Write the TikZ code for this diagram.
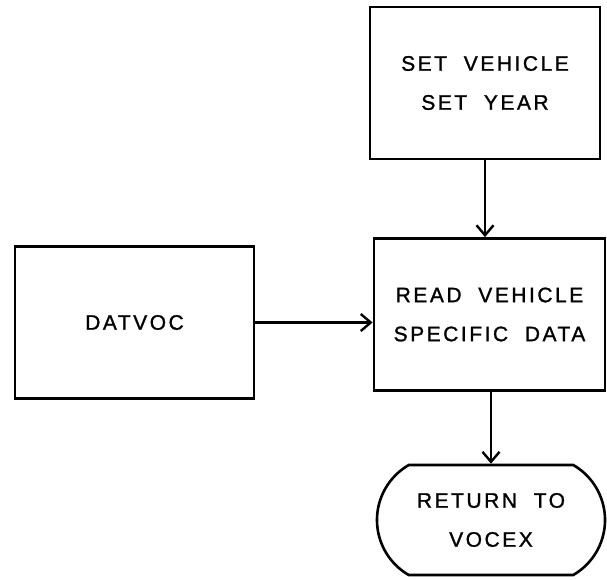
\documentclass[tikz,border=0pt]{standalone}
\usepackage{fontspec}
\setmainfont{Liberation Sans}[LetterSpace=12, FakeBold=1.2]
\usetikzlibrary{arrows.meta,shapes.misc}
\begin{document}
\begin{tikzpicture}[x=1pt, y=-1pt, >={Straight Barb[length=10pt,width=17pt]},
    every node/.style={font=\fontsize{21}{39}\selectfont, align=center},
    procbox/.style={draw, line width=2.8pt, minimum width=#1, minimum height=152pt, inner sep=0pt},
    termbox/.style={draw, line width=2.6pt, rounded rectangle, rounded rectangle arc length=120,
      minimum width=228pt, minimum height=110pt, inner sep=0pt},
    arr/.style={->, line width=2.4pt}]
	\useasboundingbox (0, 0) rectangle (607, 579);
	\node[procbox=230pt] (setyr) at (485, 83) {SET\ \ VEHICLE\\SET\ \ YEAR};
	\node[procbox=231pt] (readdata) at (489.5, 314.5) {READ\ \ VEHICLE\\SPECIFIC\ \ DATA};
	\node[procbox=239pt] (datvoc) at (134.5, 322.5) {DATVOC};
	\node[termbox] (ret) at (491, 520) {RETURN\ \ TO\\VOCEX};
	\draw[arr] (setyr.south) -- (setyr.south |- readdata.north);
	\draw[arr] (datvoc.east) -- (datvoc.east -| readdata.west);
	\draw[arr] (readdata.south -| ret.north) -- (ret.north);
\end{tikzpicture}
\end{document}
